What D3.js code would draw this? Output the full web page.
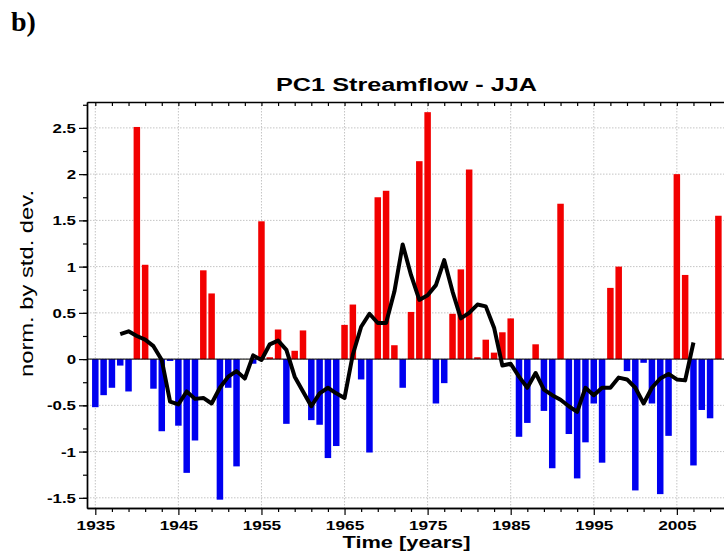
<!DOCTYPE html>
<html>
<head>
<meta charset="utf-8">
<script src="https://cdnjs.cloudflare.com/ajax/libs/d3/7.8.5/d3.min.js"></script>
<style>
body { margin: 0; background: #fff; }
svg { display: block; }
</style>
</head>
<body>
<div id="drawhere"></div>
<script>
// yearly PC1 values (bars)
var years = [1935,1936,1937,1938,1939,1940,1941,1942,1943,1944,
             1945,1946,1947,1948,1949,1950,1951,1952,1953,1954,
             1955,1956,1957,1958,1959,1960,1961,1962,1963,1964,
             1965,1966,1967,1968,1969,1970,1971,1972,1973,1974,
             1975,1976,1977,1978,1979,1980,1981,1982,1983,1984,
             1985,1986,1987,1988,1989,1990,1991,1992,1993,1994,
             1995,1996,1997,1998,1999,2000,2001,2002,2003,2004,
             2005,2006,2007,2008,2009,2010];
var pcValues = [-0.52,-0.39,-0.31,-0.07,-0.35, 2.51, 1.02,-0.32,-0.78,-0.02,
                -0.72,-1.23,-0.88, 0.96, 0.71,-1.52,-0.31,-1.16, 0.00,-0.05,
                 1.49, 0.02, 0.32,-0.70, 0.09, 0.31,-0.66,-0.71,-1.07,-0.94,
                 0.37, 0.59,-0.22,-1.01, 1.75, 1.82, 0.15,-0.31, 0.51, 2.14,
                 2.67,-0.48,-0.26, 0.49, 0.97, 2.05, 0.02, 0.21, 0.07, 0.29,
                 0.44,-0.84,-0.69, 0.16,-0.56,-1.18, 1.68,-0.81,-1.29,-0.90,
                -0.48,-1.12, 0.77, 1.00,-0.13,-1.42,-0.04,-0.48,-1.46,-0.83,
                 2.00, 0.91,-1.15,-0.55,-0.64, 1.55];

// smoothed curve
var smoothYears = [1938,1939,1940,1941,1942,1943,1944,1945,1946,1947,
                   1948,1949,1950,1951,1952,1953,1954,1955,1956,1957,
                   1958,1959,1960,1961,1962,1963,1964,1965,1966,1967,
                   1968,1969,1970,1971,1972,1973,1974,1975,1976,1977,
                   1978,1979,1980,1981,1982,1983,1984,1985,1986,1987,
                   1988,1989,1990,1991,1992,1993,1994,1995,1996,1997,
                   1998,1999,2000,2001,2002,2003,2004,2005,2006,2007];
var smoothValues = [ 0.27, 0.30, 0.25, 0.21, 0.14,-0.01,-0.46,-0.49,-0.35,-0.43,
                    -0.42,-0.48,-0.31,-0.19,-0.13,-0.21, 0.04,-0.01, 0.16, 0.20,
                     0.10,-0.19,-0.35,-0.51,-0.37,-0.31,-0.37,-0.42, 0.05, 0.35,
                     0.49, 0.39, 0.39, 0.73, 1.24, 0.91, 0.64, 0.69, 0.80, 1.07,
                     0.73, 0.44, 0.50, 0.59, 0.57, 0.34,-0.07,-0.05,-0.19,-0.31,
                    -0.15,-0.33,-0.39,-0.44,-0.51,-0.57,-0.31,-0.39,-0.31,-0.31,
                    -0.20,-0.22,-0.31,-0.48,-0.31,-0.21,-0.16,-0.22,-0.23, 0.18];

var xTickLabels = [1935,1945,1955,1965,1975,1985,1995,2005];
var yTickLabels = [-1.5,-1,-0.5,0,0.5,1,1.5,2,2.5];

var W = 724, H = 554;
var plotLeft = 87, plotTop = 102, plotBottom = 508;

var svg = d3.select("#drawhere").append("svg")
    .attr("width", W)
    .attr("height", H);

var x = d3.scaleLinear().domain([1934, 2012]).range([plotLeft, 735]);
var y = d3.scaleLinear().domain([-1.61, 2.78]).range([plotBottom, plotTop]);

var sans = "'Liberation Sans', Arial, sans-serif";

// stretch text horizontally (the picture is wider than its fonts)
function stretch(sel, k) {
    sel.each(function () {
        var w = this.getComputedTextLength();
        d3.select(this).attr("textLength", w * k).attr("lengthAdjust", "spacingAndGlyphs");
    });
}

//grid
svg.append("g").selectAll("line").data(yTickLabels).enter().append("line")
    .attr("x1", plotLeft).attr("x2", W)
    .attr("y1", function (d) { return y(d); })
    .attr("y2", function (d) { return y(d); })
    .attr("stroke", "#c4c4c4")
    .attr("stroke-dasharray", "1.5,1.5");
svg.append("g").selectAll("line").data(xTickLabels).enter().append("line")
    .attr("x1", function (d) { return x(d); })
    .attr("x2", function (d) { return x(d); })
    .attr("y1", plotTop).attr("y2", plotBottom)
    .attr("stroke", "#c4c4c4")
    .attr("stroke-dasharray", "1.5,1.5");

//bars
var bw = 6.5;
svg.append("g").selectAll("rect").data(pcValues).enter().append("rect")
    .attr("x", function (d, i) { return x(years[i]) - bw / 2; })
    .attr("y", function (d) { return y(Math.max(0, d)); })
    .attr("width", bw)
    .attr("height", function (d) { return Math.abs(y(d) - y(0)); })
    .attr("fill", function (d) { return d >= 0 ? "#f20000" : "#0000f0"; });

//zero line
svg.append("line")
    .attr("x1", plotLeft).attr("x2", W)
    .attr("y1", y(0)).attr("y2", y(0))
    .attr("stroke", "#000")
    .attr("stroke-width", 1);

//smoothed line
var line = d3.line()
    .x(function (d, i) { return x(smoothYears[i]); })
    .y(function (d) { return y(d); });
svg.append("path")
    .datum(smoothValues)
    .attr("d", line)
    .attr("fill", "none")
    .attr("stroke", "#000")
    .attr("stroke-width", 4)
    .attr("stroke-linejoin", "round");

//axes
var xMinor = d3.range(1937, 2012, 2).filter(function (d) { return xTickLabels.indexOf(d) < 0; });
var yMinor = d3.range(-1.5, 2.76, 0.25);

svg.append("g").attr("transform", "translate(0," + plotBottom + ")")
    .call(d3.axisBottom(x).tickValues(xMinor).tickSize(4).tickSizeOuter(0).tickFormat(""));
var gx = svg.append("g").attr("transform", "translate(0," + plotBottom + ")")
    .call(d3.axisBottom(x).tickValues(xTickLabels).tickSize(7).tickSizeOuter(0).tickFormat(d3.format("d")));
svg.append("g").attr("transform", "translate(0," + plotTop + ")")
    .call(d3.axisTop(x).tickValues(xMinor.concat(xTickLabels)).tickSize(-4).tickSizeOuter(0).tickFormat(""));
svg.append("g").attr("transform", "translate(" + plotLeft + ",0)")
    .call(d3.axisLeft(y).tickValues(yMinor).tickSize(4).tickSizeOuter(0).tickFormat(""));
var gy = svg.append("g").attr("transform", "translate(" + plotLeft + ",0)")
    .call(d3.axisLeft(y).tickValues(yTickLabels).tickSize(8).tickSizeOuter(0).tickPadding(3).tickFormat(function (d) { return String(d); }));

svg.selectAll(".domain").attr("stroke", "#000").attr("stroke-width", 1.4);
svg.selectAll(".tick line").attr("stroke", "#000").attr("stroke-width", 1.2);

gx.selectAll("text")
    .attr("font-family", sans).attr("font-weight", "bold").attr("font-size", 12.5)
    .attr("fill", "#000").attr("dy", null).attr("y", 22);
gy.selectAll("text")
    .attr("font-family", sans).attr("font-weight", "bold").attr("font-size", 12.5)
    .attr("fill", "#000").attr("dy", "0.36em");
stretch(gx.selectAll("text"), 1.38);
stretch(gy.selectAll("text"), 1.35);

//labels
svg.append("text")
    .attr("x", 406.5).attr("y", 91)
    .attr("text-anchor", "middle")
    .attr("font-family", sans).attr("font-weight", "bold").attr("font-size", 18)
    .attr("textLength", 261).attr("lengthAdjust", "spacingAndGlyphs")
    .text("PC1 Streamflow - JJA");

svg.append("text")
    .attr("x", 406.5).attr("y", 547.5)
    .attr("text-anchor", "middle")
    .attr("font-family", sans).attr("font-weight", "bold").attr("font-size", 16)
    .attr("textLength", 128).attr("lengthAdjust", "spacingAndGlyphs")
    .text("Time [years]");

svg.append("text")
    .attr("transform", "translate(33,283.5) rotate(-90)")
    .attr("text-anchor", "middle")
    .attr("font-family", sans).attr("font-size", 17.5)
    .attr("textLength", 187).attr("lengthAdjust", "spacingAndGlyphs")
    .text("norm. by std. dev.");

svg.append("text")
    .attr("x", 11).attr("y", 31)
    .attr("font-family", "'Liberation Serif', 'Times New Roman', serif")
    .attr("font-weight", "bold").attr("font-size", 28)
    .text("b)");
</script>
</body>
</html>
